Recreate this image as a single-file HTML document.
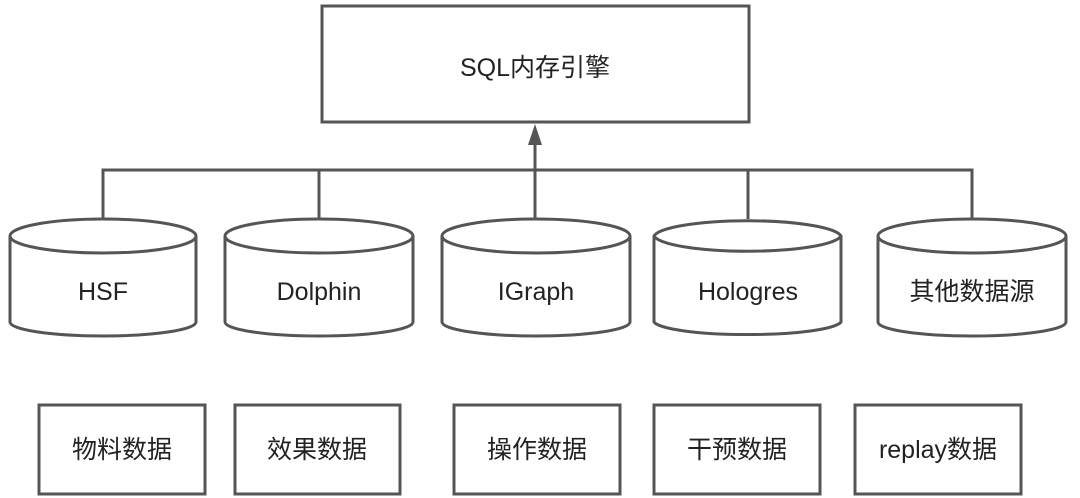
<!DOCTYPE html>
<html><head><meta charset="utf-8"><style>
html,body{margin:0;padding:0;background:#fff;}
svg{display:block;}
text{font-family:"Liberation Sans","Noto Sans CJK SC",sans-serif;font-size:25px;fill:#222;text-anchor:middle;dominant-baseline:central;}
</style></head><body>
<svg width="1080" height="498" viewBox="0 0 1080 498" xmlns="http://www.w3.org/2000/svg">
<g fill="none" stroke="#555" stroke-width="3">
<rect x="322" y="6" width="427" height="116"/>
<path d="M103 219 V170 H972 V219 M319 170 V219 M748 170 V219 M535 219 V140"/>
</g>
<polygon points="535,124 528,145 542,145" fill="#555"/>
<text x="535" y="68">SQL内存引擎</text>
<g fill="#fff" stroke="#555" stroke-width="3">
<path d="M10 236 A93 17 0 0 1 196 236 V322 A93 14 0 0 1 10 322 Z M10 236 A93 17 0 0 0 196 236"/>
<path d="M225 236 A94 17 0 0 1 413 236 V322 A94 14 0 0 1 225 322 Z M225 236 A94 17 0 0 0 413 236"/>
<path d="M442 236 A94 17 0 0 1 630 236 V322 A94 14 0 0 1 442 322 Z M442 236 A94 17 0 0 0 630 236"/>
<path d="M654 236 A94 17 0 0 1 841 236 V322 A94 14 0 0 1 654 322 Z M654 236 A94 17 0 0 0 841 236"/>
<path d="M878 236 A94 17 0 0 1 1066 236 V322 A94 14 0 0 1 878 322 Z M878 236 A94 17 0 0 0 1066 236"/>
</g>
<text x="103" y="292">HSF</text>
<text x="319" y="292">Dolphin</text>
<text x="536" y="292">IGraph</text>
<text x="748" y="292">Hologres</text>
<text x="972" y="292">其他数据源</text>
<g fill="none" stroke="#555" stroke-width="3">
<rect x="39" y="405" width="166" height="89"/>
<rect x="235" y="405" width="165" height="89"/>
<rect x="454" y="405" width="166" height="89"/>
<rect x="654" y="405" width="166" height="89"/>
<rect x="855" y="405" width="166" height="89"/>
</g>
<text x="122" y="450">物料数据</text>
<text x="317" y="450">效果数据</text>
<text x="537" y="450">操作数据</text>
<text x="737" y="450">干预数据</text>
<text x="938" y="450">replay数据</text>
</svg>
</body></html>
